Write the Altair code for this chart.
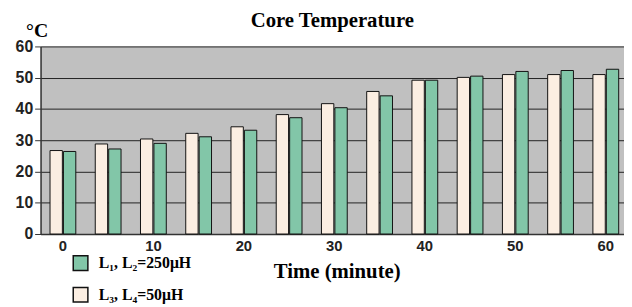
import altair as alt
import pandas as pd

times = [0, 5, 10, 15, 20, 25, 30, 35, 40, 45, 50, 55, 60]
l34 = [26.7, 28.8, 30.4, 32.2, 34.3, 38.2, 41.7, 45.6, 49.2, 50.1, 51.0, 51.0, 51.0]
l12 = [26.4, 27.2, 29.0, 31.1, 33.2, 37.2, 40.4, 44.2, 49.2, 50.5, 52.0, 52.3, 52.7]
s12 = "L\u2081, L\u2082=250\u03bcH"
s34 = "L\u2083, L\u2084=50\u03bcH"

rows = []
for t, a, b in zip(times, l34, l12):
    rows.append({"t": t, "series": s34, "v": a})
    rows.append({"t": t, "series": s12, "v": b})
df = pd.DataFrame(rows)

bars = alt.Chart(df).mark_bar(stroke="#111", strokeWidth=1).encode(
    x=alt.X("t:O",
            scale=alt.Scale(paddingInner=0.43, paddingOuter=0.163, align=0.64),
            axis=alt.Axis(title="Time (minute)", labelAngle=0,
                          labelExpr="datum.value % 10 == 0 ? datum.label : ''",
                          ticks=False, domainColor="#333", domainWidth=1.5,
                          labelFont="Liberation Sans", labelFontWeight="bold",
                          labelFontSize=15, labelColor="#222", labelPadding=5,
                          titleFont="Liberation Serif", titleFontSize=21,
                          titleFontWeight="bold", titleColor="#000",
                          titleX=300, titleY=44, titleBaseline="alphabetic",
                          titleAlign="center")),
    xOffset=alt.XOffset("series:N", sort=[s34, s12],
                        scale=alt.Scale(paddingInner=0.08)),
    y=alt.Y("v:Q", scale=alt.Scale(domain=[0, 60], nice=False),
            axis=alt.Axis(values=[0, 10, 20, 30, 40, 50, 60], title="\u00b0C",
                          titleAngle=0, titleAlign="center",
                          titleBaseline="alphabetic", titleX=-4, titleY=-10,
                          titleFont="Liberation Serif", titleFontSize=20,
                          titleFontWeight="bold", titleColor="#000",
                          labelFont="Liberation Sans", labelFontWeight="bold",
                          labelFontSize=16, labelColor="#222", labelPadding=2,
                          tickSize=6, tickColor="#333", domainColor="#333",
                          domainWidth=1.5, grid=True, gridColor="#222",
                          gridWidth=1)),
    color=alt.Color("series:N", sort=[s12, s34],
                    scale=alt.Scale(domain=[s12, s34], range=["#82c6a8", "#fbeee2"]),
                    legend=alt.Legend(title=None, orient="none", legendX=32,
                                      legendY=211, symbolType="square",
                                      symbolSize=220, symbolStrokeColor="#111",
                                      symbolStrokeWidth=1.5, symbolOpacity=1,
                                      labelFont="Liberation Serif",
                                      labelFontSize=16, labelFontWeight="bold",
                                      labelColor="#000", rowPadding=11,
                                      labelOffset=10, padding=0)),
)

chart = bars.properties(
    width=591, height=190,
    title=alt.TitleParams("Core Temperature", font="Liberation Serif",
                          fontSize=21, fontWeight="bold", color="#000",
                          anchor="middle", baseline="alphabetic", offset=0,
                          dy=27, frame="group"),
    autosize=alt.AutoSizeParams(type="none"),
    padding={"left": 33, "top": 37, "right": 0, "bottom": 72},
).configure_view(fill="#c0c0c0", stroke=None)

chart.save("out.html", embed_options={"renderer": "svg", "actions": False})
